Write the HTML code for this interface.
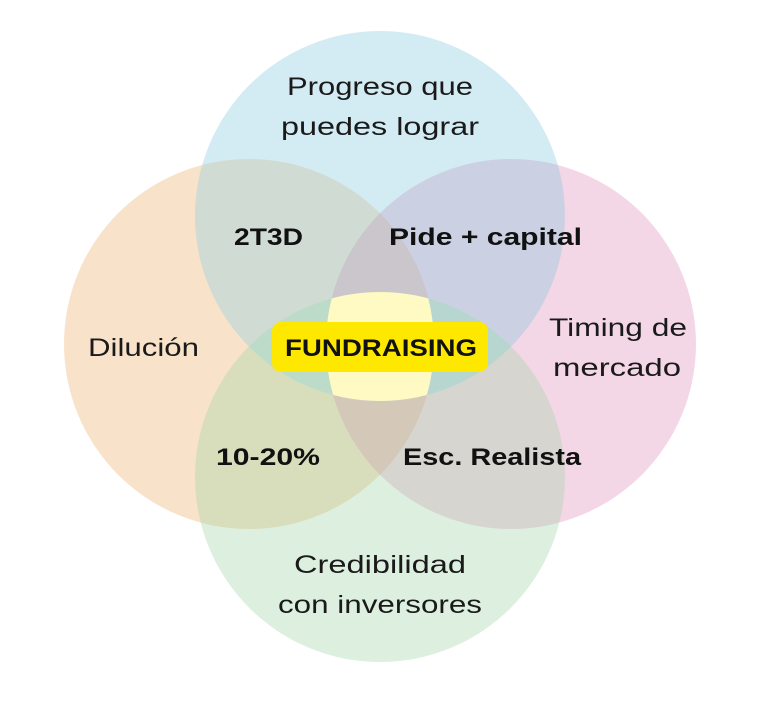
<!DOCTYPE html>
<html><head><meta charset="utf-8"><style>
html,body{margin:0;padding:0;background:#fff;}
svg{display:block;}
text{font-family:"Liberation Sans",sans-serif;fill:#1a1a1a;}
.n{font-size:25px;}
.b{font-size:24px;font-weight:bold;fill:#111;}
</style></head><body>
<svg width="768" height="715" viewBox="0 0 768 715" xmlns="http://www.w3.org/2000/svg">
<defs>
<clipPath id="cT"><circle cx="380" cy="216" r="185"/></clipPath>
<clipPath id="cB"><circle cx="380" cy="477" r="185"/></clipPath>
<clipPath id="cL"><circle cx="249" cy="344" r="185"/></clipPath>
<clipPath id="cR"><circle cx="511" cy="344" r="185"/></clipPath>
</defs>
<circle cx="380" cy="216" r="185" fill="#d3ebf3"/>
<circle cx="380" cy="477" r="185" fill="#ddefdf"/>
<circle cx="249" cy="344" r="185" fill="#f8e2ca"/>
<circle cx="511" cy="344" r="185" fill="#f4d7e6"/>
<!-- pairs -->
<g clip-path="url(#cT)"><circle cx="249" cy="344" r="185" fill="#d0dbd3"/><circle cx="511" cy="344" r="185" fill="#cbd0e3"/></g>
<g clip-path="url(#cB)"><circle cx="249" cy="344" r="185" fill="#d8ddbc"/><circle cx="511" cy="344" r="185" fill="#d6d5d0"/></g>
<g clip-path="url(#cL)"><circle cx="511" cy="344" r="185" fill="#d0c6c4"/></g>
<g clip-path="url(#cT)"><circle cx="380" cy="477" r="185" fill="#c4e0d4"/></g>
<!-- triples -->
<g clip-path="url(#cL)"><g clip-path="url(#cR)"><circle cx="380" cy="216" r="185" fill="#cbc5cc"/><circle cx="380" cy="477" r="185" fill="#d4c8b8"/></g></g>
<g clip-path="url(#cT)"><g clip-path="url(#cB)"><circle cx="249" cy="344" r="185" fill="#bcdcc9"/><circle cx="511" cy="344" r="185" fill="#b6d6cf"/></g></g>
<!-- quad -->
<g clip-path="url(#cT)"><g clip-path="url(#cB)"><g clip-path="url(#cL)"><g clip-path="url(#cR)">
<rect x="0" y="0" width="768" height="715" fill="#fff9c4"/>
</g></g></g></g>
<rect x="272" y="322" width="216" height="50" rx="9" fill="#ffe800"/>
<text class="b" x="285" y="356" textLength="192" lengthAdjust="spacingAndGlyphs">FUNDRAISING</text>
<text class="n" x="287" y="95" textLength="186" lengthAdjust="spacingAndGlyphs">Progreso que</text>
<text class="n" x="281" y="135" textLength="198" lengthAdjust="spacingAndGlyphs">puedes lograr</text>
<text class="n" x="88" y="356" textLength="111" lengthAdjust="spacingAndGlyphs">Dilución</text>
<text class="n" x="549" y="336" textLength="138" lengthAdjust="spacingAndGlyphs">Timing de</text>
<text class="n" x="553" y="376" textLength="128" lengthAdjust="spacingAndGlyphs">mercado</text>
<text class="n" x="294" y="573" textLength="172" lengthAdjust="spacingAndGlyphs">Credibilidad</text>
<text class="n" x="278" y="613" textLength="204" lengthAdjust="spacingAndGlyphs">con inversores</text>
<text class="b" x="234" y="245" textLength="69" lengthAdjust="spacingAndGlyphs">2T3D</text>
<text class="b" x="389" y="245" textLength="193" lengthAdjust="spacingAndGlyphs">Pide + capital</text>
<text class="b" x="216" y="465" textLength="104" lengthAdjust="spacingAndGlyphs">10-20%</text>
<text class="b" x="403" y="465" textLength="178" lengthAdjust="spacingAndGlyphs">Esc. Realista</text>
</svg>
</body></html>
